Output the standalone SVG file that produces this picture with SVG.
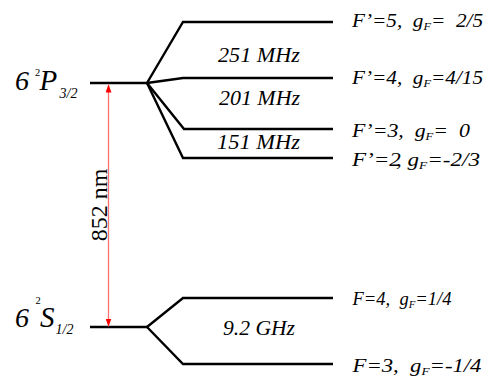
<svg xmlns="http://www.w3.org/2000/svg" width="494" height="376" viewBox="0 0 494 376">
  <style>
    .lvl { fill: none; stroke: #000; stroke-width: 2.4; stroke-linejoin: miter; }
    .it { font-family: "Liberation Serif", "Times New Roman", serif; font-style: italic; fill: #000; }
    .rm { font-family: "Liberation Serif", "Times New Roman", serif; fill: #000; }
    .lab { font-size: 19px; }
    .gap { font-size: 20px; }
    .sub { font-size: 11px; }
  </style>
  <defs>
    <marker id="redHead" viewBox="0 0 8 6" refX="8" refY="3" markerWidth="8" markerHeight="6" markerUnits="userSpaceOnUse" orient="auto-start-reverse">
      <path d="M0,0 L8,3 L0,6 Z" fill="#ff0000"/>
    </marker>
  </defs>

  <rect width="494" height="376" fill="#fff"/>

  <!-- excited state 6²P3/2 and its hyperfine fan -->
  <g id="level-P32">
    <path class="lvl" d="M90,83 H147"/>
    <text class="it" x="15" y="90" font-size="28">6</text>
    <text class="rm" x="35" y="75.5" font-size="10.5">2</text>
    <text class="it" x="39.5" y="90" font-size="29">P</text>
    <text class="it" x="59.5" y="97.5" font-size="14">3/2</text>
  </g>

  <g id="level-F5">
    <path class="lvl" d="M147,83 L183,22 H333"/>
    <text class="it lab" x="352" y="26.5" textLength="131" lengthAdjust="spacingAndGlyphs" xml:space="preserve">F’=5,  g<tspan class="sub" dy="3">F</tspan><tspan dy="-3">=  2/5</tspan></text>
  </g>
  <g id="level-F4">
    <path class="lvl" d="M147,83 L183,78 H333"/>
    <text class="it lab" x="352" y="83.5" textLength="131" lengthAdjust="spacingAndGlyphs" xml:space="preserve">F’=4,  g<tspan class="sub" dy="3">F</tspan><tspan dy="-3">=4/15</tspan></text>
  </g>
  <g id="level-F3">
    <path class="lvl" d="M147,83 L184,129 H333"/>
    <text class="it lab" x="352" y="136.5" textLength="118" lengthAdjust="spacingAndGlyphs" xml:space="preserve">F’=3,  g<tspan class="sub" dy="3">F</tspan><tspan dy="-3">=  0</tspan></text>
  </g>
  <g id="level-F2">
    <path class="lvl" d="M147,83 L183,158 H333"/>
    <text class="it lab" x="352" y="166" textLength="128" lengthAdjust="spacingAndGlyphs" xml:space="preserve">F’=2<tspan dx="-4">,</tspan> g<tspan class="sub" dy="3">F</tspan><tspan dy="-3">=-2/3</tspan></text>
  </g>

  <!-- ground state 6²S1/2 and its hyperfine pair -->
  <g id="level-S12">
    <path class="lvl" d="M90,327 H147"/>
    <text class="it" x="15" y="327" font-size="28">6</text>
    <text class="rm" x="35.5" y="304" font-size="10.5">2</text>
    <text class="it" x="40" y="327" font-size="29">S</text>
    <text class="it" x="55.5" y="333.5" font-size="14">1/2</text>
  </g>
  <g id="level-F4g">
    <path class="lvl" d="M147,327 L183,298 H333"/>
    <text class="it lab" x="352.5" y="305" textLength="99" lengthAdjust="spacingAndGlyphs" xml:space="preserve">F=4,  g<tspan class="sub" dy="3">F</tspan><tspan dy="-3">=1/4</tspan></text>
  </g>
  <g id="level-F3g">
    <path class="lvl" d="M147,327 L183,364 H333"/>
    <text class="it lab" x="352.5" y="371.5" textLength="129" lengthAdjust="spacingAndGlyphs" xml:space="preserve">F=3,  g<tspan class="sub" dy="3">F</tspan><tspan dy="-3">=-1/4</tspan></text>
  </g>

  <!-- splitting labels -->
  <g id="splittings">
    <text class="it gap" x="218" y="61.5" textLength="82" lengthAdjust="spacingAndGlyphs">251 MHz</text>
    <text class="it gap" x="219" y="105" textLength="81" lengthAdjust="spacingAndGlyphs">201 MHz</text>
    <text class="it gap" x="217" y="148.5" textLength="83" lengthAdjust="spacingAndGlyphs">151 MHz</text>
    <text class="it gap" x="223" y="335" textLength="72" lengthAdjust="spacingAndGlyphs">9.2 GHz</text>
  </g>

  <!-- D2 optical transition -->
  <g id="connectors">
    <line x1="108.5" y1="84.5" x2="108.5" y2="326.5" stroke="#ff7070" stroke-width="1.3" marker-start="url(#redHead)" marker-end="url(#redHead)"/>
  </g>
  <text class="rm" font-size="24" transform="translate(106.5,205) rotate(-90)" text-anchor="middle">852 nm</text>
</svg>
